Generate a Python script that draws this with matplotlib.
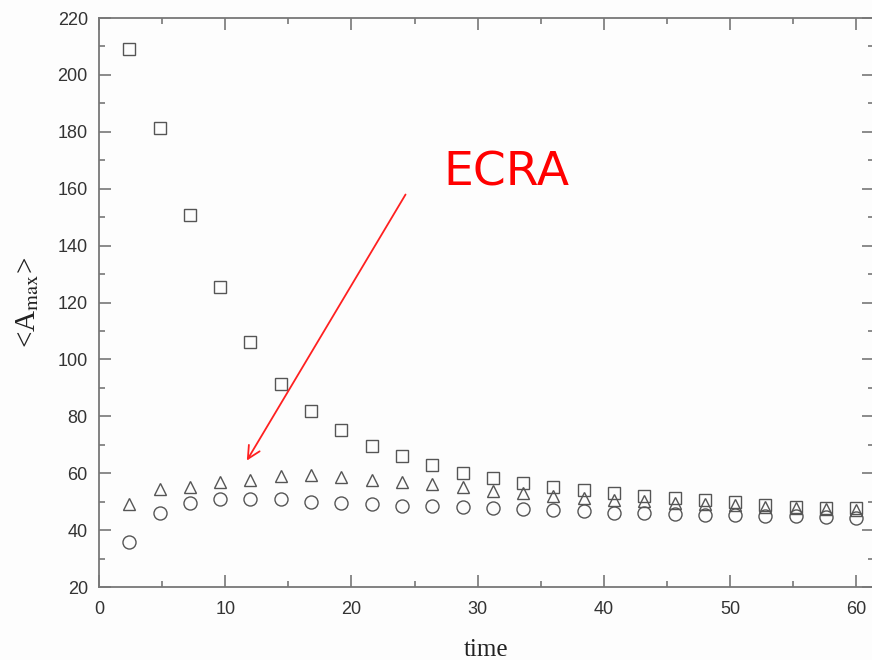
import matplotlib
matplotlib.use("Agg")
import matplotlib.pyplot as plt
from matplotlib.ticker import MultipleLocator

plt.rcParams["mathtext.fontset"] = "stix"

# mean maximal area vs time for the three runs
time = [2.4, 4.8, 7.2, 9.6, 12.0, 14.4, 16.8, 19.2, 21.6, 24.0, 26.4, 28.8, 31.2,
        33.6, 36.0, 38.4, 40.8, 43.2, 45.6, 48.0, 50.4, 52.8, 55.2, 57.6, 60.0]
a_square = [209.1, 181.3, 150.8, 125.4, 106.1, 91.4, 81.7, 75.2, 69.6, 66.0, 62.9,
            60.2, 58.2, 56.4, 55.2, 54.0, 52.9, 52.1, 51.2, 50.6, 50.0, 48.8, 48.2,
            47.7, 47.7]
a_triangle = [49.2, 54.3, 55.0, 57.0, 57.6, 59.0, 59.4, 58.8, 57.6, 57.0, 56.2, 55.0,
              53.8, 52.9, 52.1, 51.2, 50.6, 50.1, 49.6, 49.2, 48.8, 48.2, 47.8, 47.4,
              47.0]
a_circle = [35.9, 46.1, 49.4, 50.9, 50.8, 50.8, 50.0, 49.6, 49.2, 48.6, 48.6, 48.2,
            47.9, 47.4, 47.1, 46.6, 46.1, 46.1, 45.7, 45.3, 45.3, 45.0, 45.0, 44.7,
            44.3]

x_ticks = [0, 10, 20, 30, 40, 50, 60]
y_ticks = [20, 40, 60, 80, 100, 120, 140, 160, 180, 200, 220]

mark_color = "#555555"
axis_color = "#777777"
label_color = "#333333"

fig = plt.figure(figsize=(8.72, 6.6), dpi=100, facecolor="#fdfdfd")
ax = fig.add_axes([0.1135, 0.1106, 0.8888, 0.8621])
ax.set_facecolor("#fdfdfd")

ax.plot(time, a_square, linestyle="none", marker="s", markersize=8.4,
        markerfacecolor="none", markeredgecolor=mark_color, markeredgewidth=1.0)
ax.plot(time, a_triangle, linestyle="none", marker="^", markersize=9.0,
        markerfacecolor="none", markeredgecolor=mark_color, markeredgewidth=1.0)
ax.plot(time, a_circle, linestyle="none", marker="o", markersize=9.4,
        markerfacecolor="none", markeredgecolor=mark_color, markeredgewidth=1.0)

ax.set_xlim(0, 61.4)
ax.set_ylim(20, 220)
ax.set_xticks(x_ticks)
ax.set_yticks(y_ticks)
ax.xaxis.set_minor_locator(MultipleLocator(5))
ax.yaxis.set_minor_locator(MultipleLocator(10))

for spine in ax.spines.values():
    spine.set_color(axis_color)
    spine.set_linewidth(1.3)

ax.tick_params(which="both", direction="in", top=True, right=True,
               color=axis_color, width=1.2)
ax.tick_params(which="major", length=8.6)
ax.tick_params(which="minor", length=4.5)
ax.tick_params(axis="x", which="major", pad=10, labelsize=13, labelcolor=label_color)
ax.tick_params(axis="y", which="major", pad=8, labelsize=13, labelcolor=label_color)
for lab in ax.get_xticklabels() + ax.get_yticklabels():
    lab.set_fontfamily("Liberation Sans")

ax.set_xlabel("time", fontfamily="Liberation Serif", fontsize=18, color="#222222",
              labelpad=15)
ax.set_ylabel(r"<A$_{\mathrm{max}}$>", fontfamily="Liberation Serif", fontsize=21,
              color="#222222", labelpad=12)

# red callout pointing at the early peak
ax.annotate("", xy=(11.6, 63.6), xytext=(24.4, 158.8),
            arrowprops=dict(arrowstyle="->,head_length=0.9,head_width=0.45",
                            color="#ff2020", lw=1.3))
ax.text(27.3, 161, "ECRA", color="#ff0000", fontsize=34, fontfamily="DejaVu Sans")

fig.savefig("out.png", dpi=100, facecolor=fig.get_facecolor())
